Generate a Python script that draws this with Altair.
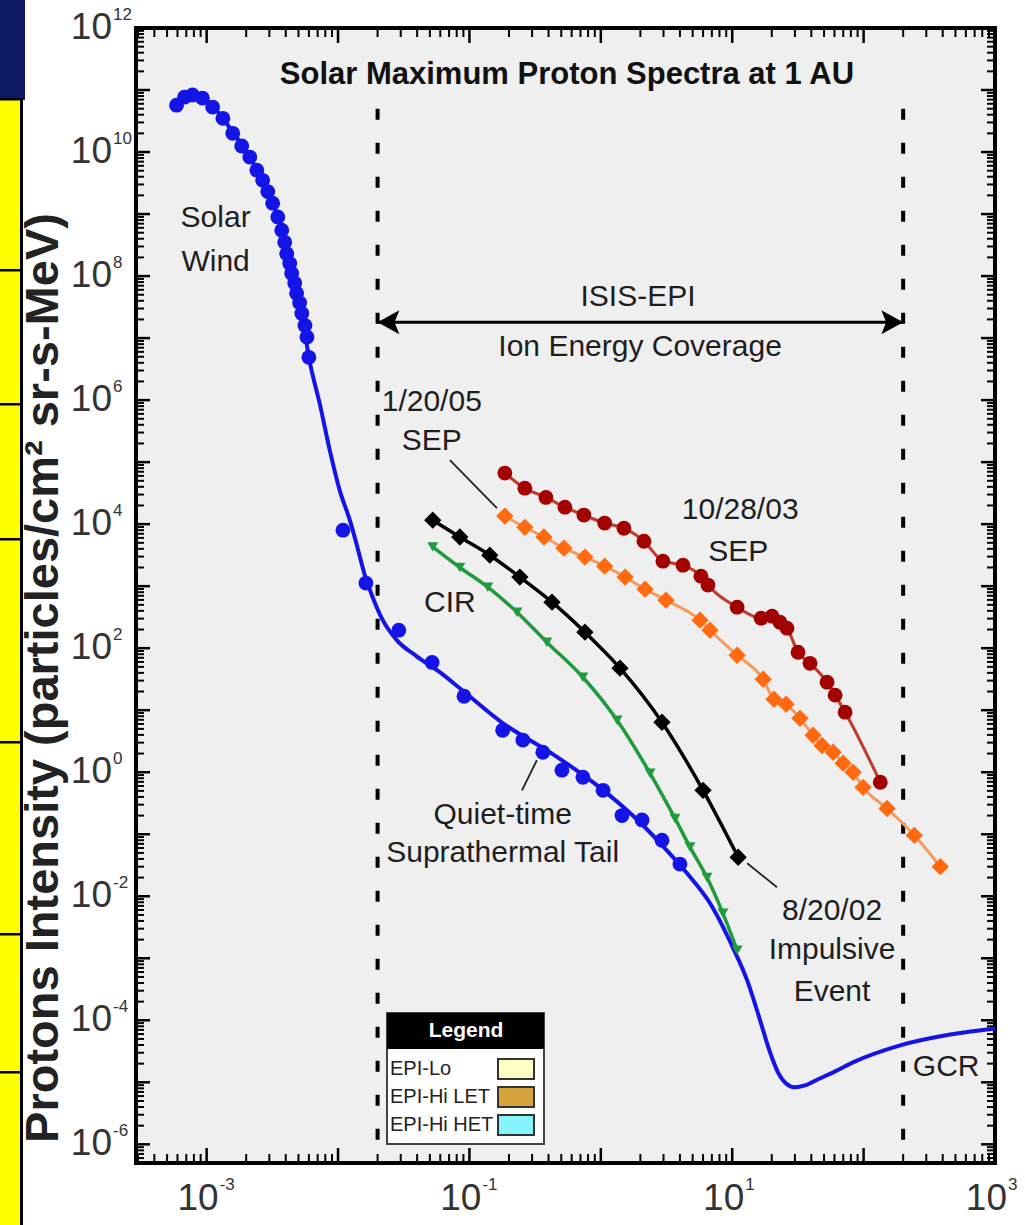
import altair as alt
import pandas as pd

# ---------------- data (energy MeV, intensity) ----------------
SW_E = [5.9e-4, 6.8e-4, 7.8e-4, 9.3e-4, 1.11e-3, 1.33e-3, 1.58e-3, 1.85e-3, 2.13e-3, 2.41e-3,
        2.67e-3, 2.92e-3, 3.18e-3, 3.48e-3, 3.73e-3, 3.93e-3, 4.07e-3, 4.29e-3, 4.44e-3, 4.68e-3,
        4.84e-3, 5.1e-3, 5.3e-3, 5.6e-3, 5.8e-3, 6.0e-3, 1.09e-2, 1.63e-2, 2.9e-2, 5.2e-2,
        9.1e-2, 0.179, 0.255, 0.362, 0.506, 0.731, 1.04, 1.45, 2.06, 2.92, 4.0]
SW_I = [5.7e10, 7.7e10, 8.3e10, 7.4e10, 5.3e10, 3.5e10, 2.0e10, 1.25e10, 8.3e9, 5.1e9,
        3.5e9, 2.3e9, 1.5e9, 9.0e8, 5.5e8, 3.5e8, 2.3e8, 1.6e8, 1.1e8, 7.7e7,
        5.3e7, 3.7e7, 2.5e7, 1.6e7, 1.04e7, 4.9e6, 8.0e3, 1.12e3, 195, 59,
        16.8, 4.75, 3.3, 2.1, 1.08, 0.83, 0.51, 0.20, 0.17, 0.080, 0.033]

FIT_E = [5.9e-4, 7.8e-4, 1.11e-3, 1.58e-3, 2.13e-3, 2.67e-3, 3.18e-3, 3.73e-3, 4.44e-3, 5.3e-3,
         6.0e-3, 7.3e-3, 8.65e-3, 1.03e-2, 1.23e-2, 1.41e-2, 1.60e-2, 1.81e-2, 2.19e-2, 2.80e-2,
         3.97e-2, 5.95e-2, 8.45e-2, 0.179, 0.409, 0.98, 1.75, 3.18, 4.53, 6.78,
         10.1, 13.0, 16.3, 19.4, 22.3, 25.7, 30.1, 35.8, 45.0, 60.7, 83, 190, 456, 1000]
FIT_I = [6.2e10, 8.3e10, 5.5e10, 2.1e10, 8.3e9, 3.5e9, 1.5e9, 5.5e8, 1.1e8, 2.5e7,
         4.9e6, 8.3e5, 1.56e5, 3.5e4, 1.16e4, 4.1e3, 1.5e3, 716, 283, 135,
         74, 41, 22.6, 6.2, 2.1, 0.57, 0.20, 0.055, 0.0235, 7.7e-3,
         1.5e-3, 4.4e-4, 1.0e-4, 3.05e-5, 1.45e-5, 9.6e-6, 8.3e-6, 8.9e-6, 1.12e-5, 1.5e-5, 2.1e-5,
         3.95e-5, 5.9e-5, 7.4e-5]

CIR_E = [0.0526, 0.0845, 0.138, 0.230, 0.388, 0.73, 1.33, 2.37, 3.67, 4.77, 6.43, 8.5, 10.9]
CIR_I = [4.3e3, 2.0e3, 964, 381, 125, 34, 6.9, 0.96, 0.18, 0.062, 0.020, 5.3e-3, 1.35e-3]

IMP_E = [0.0526, 0.0845, 0.143, 0.242, 0.425, 0.757, 1.40, 2.92, 6.0, 11.1]
IMP_I = [1.16e4, 6.2e3, 3.16e3, 1.4e3, 552, 181, 47.6, 6.4, 0.51, 0.0426]

SEP03_E = [0.186, 0.264, 0.382, 0.533, 0.743, 1.07, 1.50, 2.13, 2.97, 4.22, 5.78, 6.54,
           10.9, 16.6, 20.1, 23.1, 26.1, 31.7, 39.1, 52.7, 60.7, 72.3, 134]
SEP03_I = [6.65e4, 3.8e4, 2.7e4, 1.88e4, 1.40e4, 1.04e4, 8.6e3, 5.3e3, 2.53e3, 2.18e3, 1.45e3, 1.04e3,
           458, 305, 328, 262, 210, 86, 57, 28.3, 17.5, 9.3, 0.69]

SEP05_E = [0.186, 0.264, 0.369, 0.524, 0.757, 1.07, 1.53, 2.17, 3.13, 5.69, 6.78, 10.9, 17.2,
           20.8, 25.7, 32.8, 41.2, 48.3, 58.6, 69.8, 83.2, 99, 151, 243, 383]
SEP05_I = [1.35e4, 8.9e3, 6.2e3, 4.1e3, 2.94e3, 2.1e3, 1.40e3, 895, 595, 283, 195, 77, 31.6,
           15.0, 12.5, 7.4, 3.95, 2.7, 2.1, 1.40, 1.0, 0.57, 0.26, 0.096, 0.030]

COVERAGE_E = [0.02, 200]
COVERAGE_TOP = 5e10
ARROW_I = 1.8e7

ANNOT_TEXT = ["Solar", "Wind", "ISIS-EPI", "Ion Energy Coverage", "1/20/05", "SEP", "10/28/03", "SEP",
              "CIR", "Quiet-time", "Suprathermal Tail", "8/20/02", "Impulsive", "Event", "GCR"]
ANNOT_E = [1.17e-3, 1.17e-3, 1.92, 1.99, 0.0517, 0.0517, 11.5, 11.1,
           0.071, 0.179, 0.179, 57.5, 57.5, 57.5, 425]
ANNOT_I = [8.6e8, 1.68e8, 4.58e7, 7.2e6, 9.3e5, 2.18e5, 1.68e4, 3.53e3,
           532, 0.202, 0.0494, 5.8e-3, 1.35e-3, 2.88e-4, 1.74e-5]

TITLE = "Solar Maximum Proton Spectra at 1 AU"
TITLE_E, TITLE_I = 0.552, 1.75e11

LEADER_E1 = [0.071, 0.251, 13.0]
LEADER_I1 = [1.08e5, 0.51, 0.034]
LEADER_E2 = [0.162, 0.326, 21.9]
LEADER_I2 = [1.81e4, 1.56, 0.014]

X_LABEL_EXP = [-3, -1, 1, 3]
Y_LABEL_EXP = [12, 10, 8, 6, 4, 2, 0, -2, -4, -6]

LEGEND_LABELS = ["EPI-Lo", "EPI-Hi LET", "EPI-Hi HET"]
LEGEND_COLORS = ["#ffffc4", "#d6a23c", "#86f4ff"]

Y_TITLE = "Protons Intensity (particles/cm\u00b2 sr-s-MeV)"

# ---------------- setup ----------------
W, H = 859, 1135
XMIN, XMAX = 2.9e-4, 1e3
YMIN, YMAX = 5e-7, 1e12
XS = alt.Scale(type="log", domain=[XMIN, XMAX])
YS = alt.Scale(type="log", domain=[YMIN, YMAX])
NARROW = "Liberation Sans Narrow, Arial Narrow, Liberation Sans, Arial, sans-serif"
SANS = "Liberation Sans, Arial, sans-serif"
TXT = "#1e1e1e"

BLUE = "#1414e6"
GREEN = "#1f9a3c"
RED_PT = "#a30000"
RED_LN = "#c0392b"
ORA_PT = "#ff6a10"
ORA_LN = "#f59a5c"


def X(f="e"):
    return alt.X(f"{f}:Q", scale=XS, axis=None)


def Y(f="i"):
    return alt.Y(f"{f}:Q", scale=YS, axis=None)


def df(e, i):
    return pd.DataFrame({"e": e, "i": i})


ONE = pd.DataFrame({"a": [0]})
layers = []


# left slide strip (decoration)
def px_rect(x1, x2, y1, y2, fill, stroke=None, sw=0):
    kw = dict(fill=fill)
    if stroke is not None:
        kw.update(stroke=stroke, strokeWidth=sw)
    return alt.Chart(ONE).mark_rect(**kw).encode(
        x=alt.value(x1), x2=alt.value(x2), y=alt.value(y1), y2=alt.value(y2))


layers.append(px_rect(-136, -111, -28, 72, "#0e1a66"))
layers.append(px_rect(-136, -115, 72, H + 62, "#ffff00"))
layers.append(px_rect(-116, -113, 70, H + 62, "black"))
for yy in [70, 241, 375, 510, 713, 905, 1043]:
    layers.append(px_rect(-136, -113, yy, yy + 2.5, "black"))

# ticks
x_major = [10.0 ** k for k in range(-3, 4)]
x_minor = [m * 10.0 ** k for k in range(-4, 3) for m in range(2, 10) if XMIN <= m * 10.0 ** k <= XMAX]
y_major = [10.0 ** k for k in range(-6, 13)]
y_minor = [m * 10.0 ** k for k in range(-7, 12) for m in range(2, 10) if YMIN <= m * 10.0 ** k <= YMAX]

for vals, L, sw in [(x_major, 15, 2.5), (x_minor, 9, 2)]:
    d = pd.DataFrame({"v": vals})
    layers.append(alt.Chart(d).mark_rule(color="black", strokeWidth=sw).encode(
        x=X("v"), y=alt.value(H), y2=alt.value(H - L)))
    layers.append(alt.Chart(d).mark_rule(color="black", strokeWidth=sw).encode(
        x=X("v"), y=alt.value(0), y2=alt.value(L)))
for vals, L, sw in [(y_major, 14, 2.5), (y_minor, 8, 2)]:
    d = pd.DataFrame({"v": vals})
    layers.append(alt.Chart(d).mark_rule(color="black", strokeWidth=sw).encode(
        y=Y("v"), x=alt.value(0), x2=alt.value(L)))
    layers.append(alt.Chart(d).mark_rule(color="black", strokeWidth=sw).encode(
        y=Y("v"), x=alt.value(W), x2=alt.value(W - L)))

# tick labels
xl = pd.DataFrame({"v": [10.0 ** k for k in X_LABEL_EXP], "exp": [str(k) for k in X_LABEL_EXP]})
layers.append(alt.Chart(xl).mark_text(align="right", baseline="middle", dx=12, font=NARROW,
                                      fontSize=37, color="#333").encode(
    x=X("v"), y=alt.value(H + 36), text=alt.value("10")))
layers.append(alt.Chart(xl).mark_text(align="left", baseline="middle", dx=13, font=NARROW,
                                      fontSize=17, color="#333").encode(
    x=X("v"), y=alt.value(H + 22), text="exp:N"))
yl = pd.DataFrame({"v": [10.0 ** k for k in Y_LABEL_EXP], "exp": [str(k) for k in Y_LABEL_EXP]})
layers.append(alt.Chart(yl).mark_text(align="right", baseline="middle", font=NARROW,
                                      fontSize=37, color="#333").encode(
    y=Y("v"), x=alt.value(-24), text=alt.value("10")))
layers.append(alt.Chart(yl).mark_text(align="left", baseline="middle", dy=-13, font=NARROW,
                                      fontSize=17, color="#333").encode(
    y=Y("v"), x=alt.value(-23), text="exp:N"))

# axis title
layers.append(alt.Chart(ONE).mark_text(angle=270, baseline="middle", align="center", font=SANS,
                                       fontSize=47, fontWeight="bold", color="#222").encode(
    x=alt.value(-92), y=alt.value(650), text=alt.value(Y_TITLE)))

# coverage dashed lines and arrow
cov = pd.DataFrame({"e": COVERAGE_E, "top": [COVERAGE_TOP] * 2, "bot": [YMIN] * 2})
layers.append(alt.Chart(cov).mark_rule(color="black", strokeWidth=4, strokeDash=[11, 23]).encode(
    x=X("e"), y=Y("top"), y2="bot:Q"))
arr = pd.DataFrame({"e": [COVERAGE_E[0]], "e2": [COVERAGE_E[1]], "i": [ARROW_I]})
layers.append(alt.Chart(arr).mark_rule(color="black", strokeWidth=3).encode(
    x=X("e"), x2="e2:Q", y=Y("i")))
heads = pd.DataFrame({"e": COVERAGE_E, "i": [ARROW_I] * 2, "side": ["L", "R"]})
layers.append(alt.Chart(heads[heads.side == "L"]).mark_point(
    shape="M0,0L1,-0.55L0.78,0L1,0.55Z", filled=True, color="black", opacity=1, size=1900,
    strokeWidth=0).encode(x=X("e"), y=Y("i")))
layers.append(alt.Chart(heads[heads.side == "R"]).mark_point(
    shape="M0,0L-1,-0.55L-0.78,0L-1,0.55Z", filled=True, color="black", opacity=1, size=1900,
    strokeWidth=0).encode(x=X("e"), y=Y("i")))

# leader lines
lead = pd.DataFrame({"e": LEADER_E1, "i": LEADER_I1, "e2": LEADER_E2, "i2": LEADER_I2})
layers.append(alt.Chart(lead).mark_rule(color="#222", strokeWidth=1.8).encode(
    x=X("e"), y=Y("i"), x2="e2:Q", y2="i2:Q"))

# curves
layers.append(alt.Chart(df(FIT_E, FIT_I)).mark_line(color=BLUE, strokeWidth=4, interpolate="monotone").encode(
    x=X(), y=Y()))
layers.append(alt.Chart(df(CIR_E, CIR_I)).mark_line(color=GREEN, strokeWidth=3.5, interpolate="monotone").encode(
    x=X(), y=Y()))
layers.append(alt.Chart(df(IMP_E, IMP_I)).mark_line(color="black", strokeWidth=3.5, interpolate="monotone").encode(
    x=X(), y=Y()))
layers.append(alt.Chart(df(SEP05_E, SEP05_I)).mark_line(color=ORA_LN, strokeWidth=3, interpolate="monotone").encode(
    x=X(), y=Y()))
layers.append(alt.Chart(df(SEP03_E, SEP03_I)).mark_line(color=RED_LN, strokeWidth=3, interpolate="monotone").encode(
    x=X(), y=Y()))

# points
layers.append(alt.Chart(df(SW_E, SW_I)).mark_circle(color=BLUE, size=220, opacity=1).encode(x=X(), y=Y()))
layers.append(alt.Chart(df(CIR_E, CIR_I)).mark_point(shape="triangle-down", filled=True, color=GREEN,
                                                     size=120, opacity=1).encode(x=X(), y=Y()))
layers.append(alt.Chart(df(IMP_E, IMP_I)).mark_point(shape="diamond", filled=True, color="black",
                                                     size=300, opacity=1).encode(x=X(), y=Y()))
layers.append(alt.Chart(df(SEP05_E, SEP05_I)).mark_point(shape="diamond", filled=True, color=ORA_PT,
                                                         size=300, opacity=1).encode(x=X(), y=Y()))
layers.append(alt.Chart(df(SEP03_E, SEP03_I)).mark_circle(color=RED_PT, size=220, opacity=1).encode(
    x=X(), y=Y()))

# annotations
ann = pd.DataFrame({"t": ANNOT_TEXT, "e": ANNOT_E, "i": ANNOT_I})
layers.append(alt.Chart(ann).mark_text(font=NARROW, fontSize=30, color=TXT, align="center",
                                       baseline="middle").encode(x=X(), y=Y(), text="t:N"))
tt = pd.DataFrame({"t": [TITLE], "e": [TITLE_E], "i": [TITLE_I]})
layers.append(alt.Chart(tt).mark_text(font=NARROW, fontSize=31, fontWeight="bold", color="#111",
                                      align="center", baseline="middle").encode(x=X(), y=Y(), text="t:N"))

# legend box (decoration)
layers.append(px_rect(251, 408, 985, 1116, "white", "#444", 2))
layers.append(px_rect(251, 408, 985, 1021, "black"))
layers.append(alt.Chart(ONE).mark_text(font=NARROW, fontSize=21, fontWeight="bold", color="white",
                                       align="center", baseline="middle").encode(
    x=alt.value(330), y=alt.value(1003), text=alt.value("Legend")))
for k, (lab, col) in enumerate(zip(LEGEND_LABELS, LEGEND_COLORS)):
    yc = 1041 + 28 * k
    layers.append(alt.Chart(ONE).mark_text(font=NARROW, fontSize=20, color="#222", align="left",
                                           baseline="middle").encode(
        x=alt.value(254), y=alt.value(yc), text=alt.value(lab)))
    layers.append(px_rect(362, 398, yc - 10, yc + 10, col, "#333", 2))

chart = alt.layer(*layers).properties(
    width=W, height=H,
    autosize=alt.AutoSizeParams(type="none"),
    padding={"left": 136, "top": 28, "right": 30, "bottom": 62},
    background="white",
).configure_view(fill="#efefef", stroke="black", strokeWidth=4)

chart.save("out.html", embed_options={"renderer": "svg", "actions": False})
